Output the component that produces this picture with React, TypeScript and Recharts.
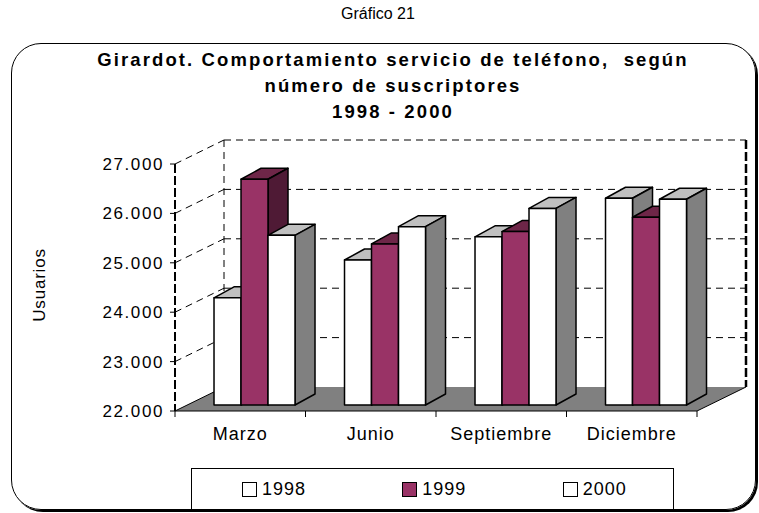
import React from 'react';
import { BarChart, Bar, XAxis, YAxis, CartesianGrid, Legend } from 'recharts';

const CATEGORIES = ['Marzo', 'Junio', 'Septiembre', 'Diciembre'];
const SERIES_NAMES = ['1998', '1999', '2000'];
const USERS_1998 = [24170, 24935, 25405, 26185];
const USERS_1999 = [26570, 25260, 25510, 25800];
const USERS_2000 = [25435, 25610, 25980, 26165];
const Y_TICKS = [22000, 23000, 24000, 25000, 26000, 27000];

const W = 759;
const H = 513;
const PLOT_L = 175;
const PLOT_T = 164;
const PLOT_R = 697;
const PLOT_B = 411;
// 3d projection of the walls and of the bars
const WALL_DX = 49;
const WALL_DY = -24;
const BAR_OX = 15;
const BAR_OY = -6;
const BAR_DX = 20;
const BAR_DY = -11;
const FONT = '"Liberation Sans", Arial, sans-serif';

const data = CATEGORIES.map((mes, i) => ({
  mes,
  y1998: USERS_1998[i],
  y1999: USERS_1999[i],
  y2000: USERS_2000[i],
}));

const fmt = (v: number) => `${Math.floor(v / 1000)}.${String(v % 1000).padStart(3, '0')}`;

function Bar3D(props: any) {
  const { x, y, width, height, fill, topFill, sideFill } = props;
  if (x == null || width == null || height == null) return null;
  const fx = x + BAR_OX;
  const fy = y + BAR_OY;
  const r = fx + width;
  const b = fy + height;
  return (
    <g stroke="#000" strokeWidth={1.5} strokeLinejoin="round">
      <polygon
        points={`${fx},${fy} ${fx + BAR_DX},${fy + BAR_DY} ${r + BAR_DX},${fy + BAR_DY} ${r},${fy}`}
        fill={topFill}
      />
      <polygon
        points={`${r},${fy} ${r + BAR_DX},${fy + BAR_DY} ${r + BAR_DX},${b + BAR_DY} ${r},${b}`}
        fill={sideFill}
      />
      <rect x={fx} y={fy} width={width} height={height} fill={fill} />
    </g>
  );
}

const gridLine = (p: any) => {
  const { x1, x2, y1 } = p;
  if (Math.abs(y1 - PLOT_B) < 1) {
    // floor
    return (
      <g key={p.key}>
        <polygon
          points={`${x1},${y1} ${x2},${y1} ${x2 + WALL_DX},${y1 + WALL_DY} ${x1 + WALL_DX},${y1 + WALL_DY}`}
          fill="#808080"
        />
        <line x1={x1} y1={y1} x2={x1 + WALL_DX} y2={y1 + WALL_DY} stroke="#000" />
        <line x1={x2} y1={y1} x2={x2 + WALL_DX} y2={y1 + WALL_DY} stroke="#000" />
      </g>
    );
  }
  const isTop = Math.abs(y1 - PLOT_T) < 1;
  return (
    <g key={p.key}>
      <line x1={x1} y1={y1} x2={x1 + WALL_DX} y2={y1 + WALL_DY} stroke="#000" strokeDasharray="7 5" />
      <line x1={x1 + WALL_DX} y1={y1 + WALL_DY} x2={x2 + WALL_DX} y2={y1 + WALL_DY} stroke="#000" strokeDasharray="7 5" />
      {isTop && (
        <>
          <line x1={x1 + WALL_DX} y1={y1 + WALL_DY} x2={x1 + WALL_DX} y2={PLOT_B + WALL_DY} stroke="#000" strokeDasharray="7 5" />
          <line x1={x2 + WALL_DX} y1={y1 + WALL_DY} x2={x2 + WALL_DX} y2={PLOT_B + WALL_DY} stroke="#000" strokeWidth={2.5} strokeDasharray="9 3" />
        </>
      )}
    </g>
  );
};

const XTick = (p: any) => {
  const { x, y, payload, index } = p;
  const half = (PLOT_R - PLOT_L) / CATEGORIES.length / 2;
  return (
    <g>
      <line x1={x - half} y1={y} x2={x - half} y2={y + 6} stroke="#000" />
      {index === CATEGORIES.length - 1 && <line x1={x + half} y1={y} x2={x + half} y2={y + 6} stroke="#000" />}
      <text x={x} y={y + 29} textAnchor="middle" fontSize={18} fontFamily={FONT} fill="#000" letterSpacing={1}>
        {payload.value}
      </text>
    </g>
  );
};

const LegendBox = ({ payload }: any) => (
  <div
    style={{
      boxSizing: 'border-box',
      width: 483,
      height: 42,
      border: '1px solid #000',
      display: 'flex',
      alignItems: 'center',
      fontFamily: FONT,
      fontSize: 18,
      background: '#fff',
    }}
  >
    {(payload || []).map((e: any) => (
      <div key={e.value} style={{ width: 161, paddingLeft: 50, boxSizing: 'border-box', display: 'flex', alignItems: 'center' }}>
        <span style={{ display: 'inline-block', width: 13, height: 13, border: '1px solid #000', background: e.color, marginRight: 5 }} />
        <span style={{ letterSpacing: 1 }}>{e.value}</span>
      </div>
    ))}
  </div>
);

export default function App() {
  return (
    <div style={{ position: 'absolute', left: 0, top: 0, width: W, height: H, background: '#fff', overflow: 'hidden', fontFamily: FONT }}>
      <div style={{ position: 'absolute', left: 0, width: W - 3, top: 5, textAlign: 'center', fontSize: 16 }}>Gráfico 21</div>
      <div
        style={{
          position: 'absolute',
          left: 11,
          top: 43,
          width: 745,
          height: 467,
          boxSizing: 'border-box',
          border: '1.5px solid #000',
          borderRadius: 30,
          boxShadow: '2px 2px 0 #000',
        }}
      />
      <div style={{ position: 'absolute', left: 0, width: 786, top: 47, textAlign: 'center', fontWeight: 'bold', fontSize: 18.5, lineHeight: '26px', letterSpacing: 2.1, whiteSpace: 'pre' }}>
        {'Girardot. Comportamiento servicio de teléfono,  según\nnúmero de suscriptores\n1998 - 2000'}
      </div>
      <div style={{ position: 'absolute', left: 40, top: 285, transform: 'translate(-50%, -50%) rotate(-90deg)', fontSize: 17, letterSpacing: 0.8 }}>
        Usuarios
      </div>
      <div style={{ position: 'absolute', left: 0, top: 0 }}>
        <BarChart
          width={W}
          height={H}
          data={data}
          margin={{ top: PLOT_T, right: W - PLOT_R, bottom: H - PLOT_B - 40, left: 0 }}
          barCategoryGap="18.4%"
          barGap={0}
        >
          <CartesianGrid horizontal={gridLine} vertical={false} />
          <XAxis
            dataKey="mes"
            height={40}
            tickSize={0}
            tickMargin={0}
            tickLine={false}
            axisLine={{ stroke: '#000' }}
            tick={<XTick />}
            interval={0}
          />
          <YAxis
            domain={[22000, 27000]}
            ticks={Y_TICKS}
            interval={0}
            width={PLOT_L}
            tickSize={5}
            tickMargin={6}
            tickFormatter={fmt}
            axisLine={{ stroke: '#000', strokeWidth: 2, strokeDasharray: '9 3' }}
            tickLine={{ stroke: '#000' }}
            tick={{ fill: '#000', fontSize: 17, fontFamily: FONT, letterSpacing: 1.6 }}
          />
          <Legend
            layout="horizontal"
            verticalAlign="middle"
            align="center"
            wrapperStyle={{ left: 191, top: 468, width: 483, height: 42 }}
            content={<LegendBox />}
          />
          <Bar dataKey="y1998" name={SERIES_NAMES[0]} fill="#FFFFFF" isAnimationActive={false}
            shape={(p: any) => <Bar3D {...p} topFill="#C0C0C0" sideFill="#808080" />} />
          <Bar dataKey="y1999" name={SERIES_NAMES[1]} fill="#993366" isAnimationActive={false}
            shape={(p: any) => <Bar3D {...p} topFill="#6E2648" sideFill="#4F1A35" />} />
          <Bar dataKey="y2000" name={SERIES_NAMES[2]} fill="#FFFFFF" isAnimationActive={false}
            shape={(p: any) => <Bar3D {...p} topFill="#C0C0C0" sideFill="#808080" />} />
        </BarChart>
      </div>
    </div>
  );
}
